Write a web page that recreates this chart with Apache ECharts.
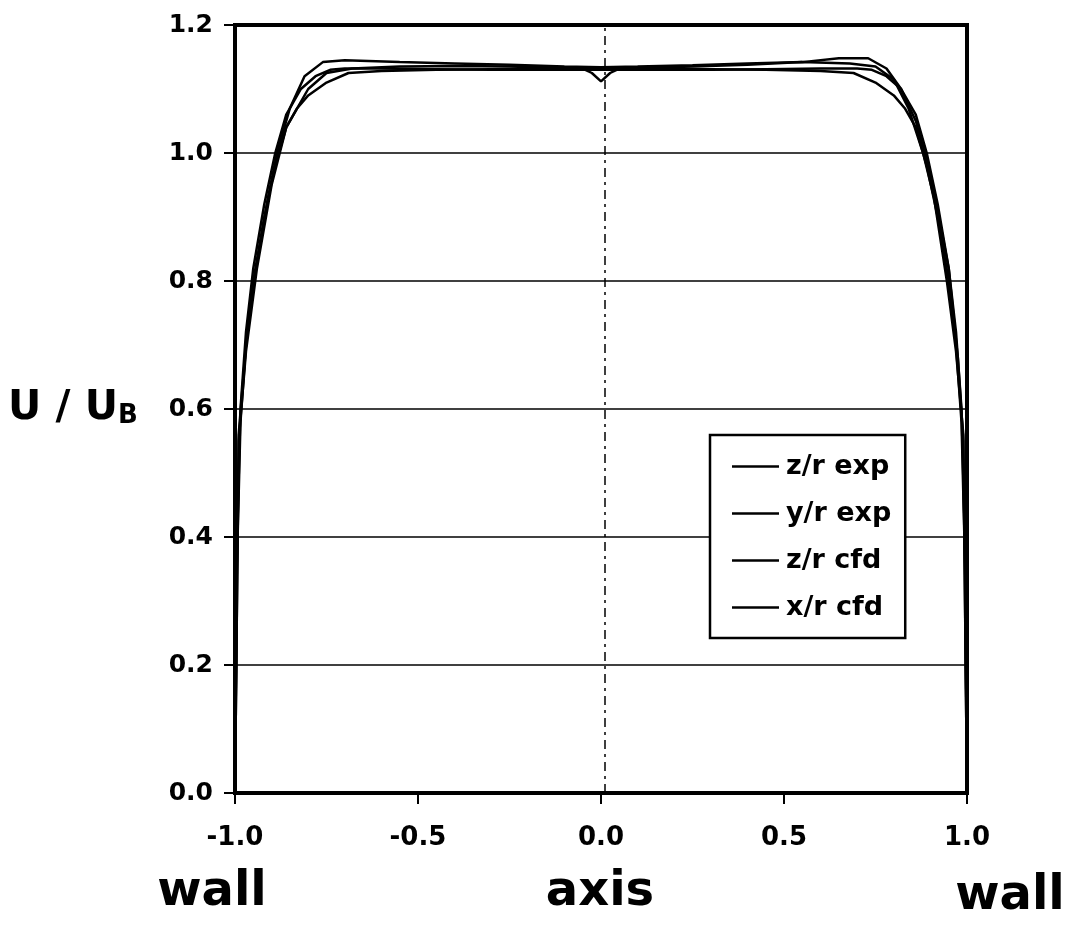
<!DOCTYPE html>
<html>
<head>
<meta charset="utf-8">
<script src="https://cdn.jsdelivr.net/npm/echarts@6/dist/echarts.min.js"></script>
<style>
  html, body { margin: 0; padding: 0; background: #fff; }
  #chart { width: 1066px; height: 926px; }
</style>
</head>
<body>
<div id="chart"></div>
<script>
// axis ticks
const xTicks = [-1.0, -0.5, 0.0, 0.5, 1.0];
const yTicks = [0.0, 0.2, 0.4, 0.6, 0.8, 1.0, 1.2];

// z/r exp
const xZexp = [-1.0, -0.99, -0.97, -0.94, -0.90, -0.86, -0.80, -0.75, -0.68, -0.55, -0.40, -0.25, -0.10, 0.0, 0.10, 0.25, 0.40, 0.55, 0.65, 0.73, 0.78, 0.82, 0.86, 0.89, 0.92, 0.95, 0.975, 0.99, 1.0];
const yZexp = [0.0, 0.55, 0.69, 0.82, 0.95, 1.04, 1.10, 1.125, 1.132, 1.135, 1.136, 1.135, 1.133, 1.132, 1.133, 1.135, 1.138, 1.142, 1.148, 1.148, 1.132, 1.10, 1.05, 0.99, 0.91, 0.82, 0.68, 0.55, 0.0];

// y/r exp
const xYexp = [-1.0, -0.99, -0.97, -0.945, -0.91, -0.885, -0.85, -0.81, -0.76, -0.70, -0.55, -0.40, -0.25, -0.10, 0.0, 0.10, 0.25, 0.40, 0.55, 0.68, 0.75, 0.80, 0.84, 0.88, 0.91, 0.945, 0.97, 0.99, 1.0];
const yYexp = [0.0, 0.56, 0.70, 0.81, 0.93, 1.0, 1.07, 1.12, 1.142, 1.145, 1.142, 1.14, 1.138, 1.135, 1.134, 1.135, 1.137, 1.14, 1.142, 1.14, 1.135, 1.115, 1.07, 1.0, 0.93, 0.80, 0.69, 0.56, 0.0];

// z/r cfd
const xZcfd = [-1.0, -0.995, -0.985, -0.97, -0.95, -0.92, -0.89, -0.86, -0.83, -0.80, -0.75, -0.69, -0.6, -0.45, -0.3, -0.15, -0.05, -0.025, 0.0, 0.025, 0.05, 0.15, 0.3, 0.45, 0.6, 0.69, 0.75, 0.80, 0.83, 0.86, 0.89, 0.92, 0.95, 0.97, 0.985, 0.995, 1.0];
const yZcfd = [0.0, 0.35, 0.58, 0.70, 0.80, 0.90, 0.98, 1.04, 1.07, 1.09, 1.11, 1.125, 1.128, 1.13, 1.131, 1.132, 1.132, 1.125, 1.112, 1.125, 1.132, 1.132, 1.131, 1.13, 1.128, 1.125, 1.11, 1.09, 1.07, 1.04, 0.98, 0.90, 0.80, 0.70, 0.58, 0.35, 0.0];

// x/r cfd
const xXcfd = [-1.0, -0.995, -0.985, -0.97, -0.95, -0.92, -0.89, -0.86, -0.82, -0.78, -0.74, -0.70, -0.6, -0.45, -0.3, -0.15, 0.0, 0.15, 0.3, 0.45, 0.6, 0.70, 0.74, 0.78, 0.82, 0.86, 0.89, 0.92, 0.95, 0.97, 0.985, 0.995, 1.0];
const yXcfd = [0.0, 0.38, 0.60, 0.72, 0.82, 0.92, 1.0, 1.06, 1.10, 1.12, 1.13, 1.132, 1.132, 1.131, 1.13, 1.13, 1.13, 1.13, 1.13, 1.131, 1.132, 1.132, 1.13, 1.12, 1.10, 1.06, 1.0, 0.92, 0.82, 0.72, 0.60, 0.38, 0.0];

const seriesNames = ["z/r exp", "y/r exp", "z/r cfd", "x/r cfd"];
const seriesX = [xZexp, xYexp, xZcfd, xXcfd];
const seriesY = [yZexp, yYexp, yZcfd, yXcfd];

const FONT = "DejaVu Sans";
const zip = (xs, ys) => xs.map((x, i) => [x, ys[i]]);

const chart = echarts.init(document.getElementById("chart"));

const series = seriesNames.map((name, k) => ({
  name: name,
  type: "line",
  data: zip(seriesX[k], seriesY[k]),
  symbol: "none",
  lineStyle: { color: "#000", width: 2.5 },
  itemStyle: { color: "#000" },
  z: 3,
}));

// centre line (dash-dot) at the pipe axis
series[3].markLine = {
  silent: true,
  symbol: "none",
  label: { show: false },
  lineStyle: { color: "#000", width: 1.5, type: [9, 5, 3, 5] },
  data: [[{ coord: [0.01, 0] }, { coord: [0.01, 1.2] }]],
};

const option = {
  backgroundColor: "#fff",
  animation: false,
  grid: {
    left: 235,
    right: 99,
    top: 25,
    bottom: 133,
    show: true,
    borderColor: "#000",
    borderWidth: 4,
    backgroundColor: "transparent",
  },
  legend: {
    data: seriesNames,
    orient: "vertical",
    left: 710,
    top: 435,
    padding: [18, 14, 17, 22],
    itemGap: 20,
    itemWidth: 47,
    itemHeight: 2.5,
    icon: "rect",
    borderColor: "#000",
    borderWidth: 2.5,
    backgroundColor: "#fff",
    itemStyle: { color: "#000" },
    textStyle: { fontFamily: FONT, fontWeight: "bold", fontSize: 27, color: "#000", padding: [0, 0, 0, 2] },
  },
  xAxis: {
    type: "value",
    min: xTicks[0],
    max: xTicks[xTicks.length - 1],
    interval: 0.5,
    axisLine: { onZero: false, lineStyle: { color: "#000", width: 4 } },
    axisTick: { show: true, inside: false, length: 11, lineStyle: { color: "#000", width: 2 } },
    splitLine: { show: false },
    axisLabel: {
      margin: 32,
      color: "#000",
      fontFamily: FONT,
      fontWeight: "bold",
      fontSize: 26,
      formatter: (v) => v.toFixed(1),
    },
  },
  yAxis: {
    type: "value",
    min: yTicks[0],
    max: yTicks[yTicks.length - 1],
    interval: 0.2,
    axisLine: { onZero: false, lineStyle: { color: "#000", width: 4 } },
    axisTick: { show: true, inside: false, length: 11, lineStyle: { color: "#000", width: 2 } },
    splitLine: { show: true, lineStyle: { color: "#000", width: 1.5 } },
    axisLabel: {
      margin: 22,
      color: "#000",
      fontFamily: FONT,
      fontWeight: "bold",
      fontSize: 25,
      formatter: (v) => v.toFixed(1),
    },
  },
  graphic: [
    {
      type: "text",
      left: 8,
      top: 388,
      style: {
        text: "{a|U / U}{b|B}",
        rich: {
          a: { fontFamily: FONT, fontWeight: "bold", fontSize: 41, fill: "#000" },
          b: { fontFamily: FONT, fontWeight: "bold", fontSize: 26, fill: "#000", padding: [15, 0, 0, 0] },
        },
      },
    },
    {
      type: "text",
      x: 212,
      y: 893,
      style: { text: "wall", fontFamily: FONT, fontWeight: "bold", fontSize: 48, fill: "#000", align: "center", verticalAlign: "middle" },
    },
    {
      type: "text",
      x: 600,
      y: 893,
      style: { text: "axis", fontFamily: FONT, fontWeight: "bold", fontSize: 48, fill: "#000", align: "center", verticalAlign: "middle" },
    },
    {
      type: "text",
      x: 1010,
      y: 897,
      style: { text: "wall", fontFamily: FONT, fontWeight: "bold", fontSize: 48, fill: "#000", align: "center", verticalAlign: "middle" },
    },
  ],
  series: series,
};

chart.setOption(option);
</script>
</body>
</html>
